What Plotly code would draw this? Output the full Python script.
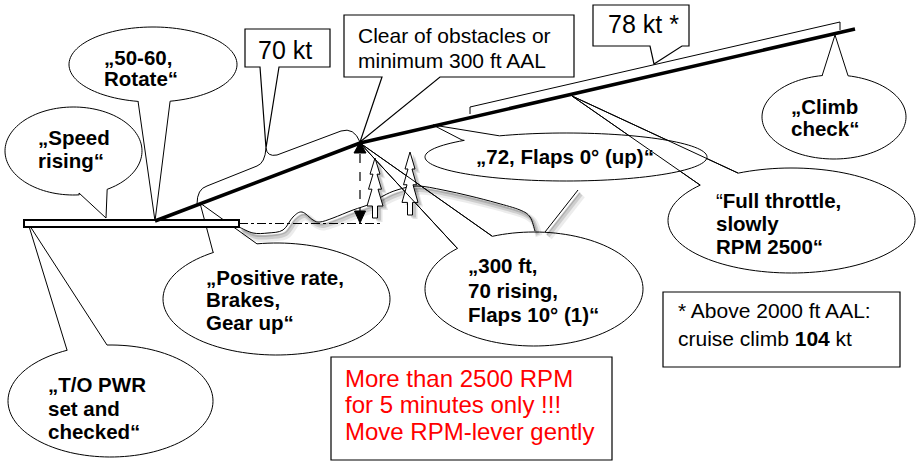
import math
import plotly.graph_objects as go

W, H = 917, 462
FONT = "Liberation Sans, Arial, sans-serif"

# ---------------- data (diagram geometry, pixel units) ----------------
climb_x = [155, 360, 855]
climb_y = [221, 143, 29]

runway_x = [24, 239]
runway_y = [220, 227]

terrain_x = [239, 253, 268, 283, 293, 302, 313, 320, 333, 353, 370, 383, 397, 417, 443, 470, 497, 520, 530, 535]
terrain_y = [227, 233, 233, 230, 217, 212, 220, 222, 218, 210, 204, 196, 190, 186, 190, 196, 203, 210, 217, 231]
slope_x = [545, 578]
slope_y = [232, 190]

tree_cx = [375, 410]
tree_top = [158, 152]
tree_bottom = [218, 215]

# speech bubbles
bubble_lines = [
    ["„Speed", "rising“"],
    ["„50-60,", "Rotate“"],
    ["„T/O PWR", "set and", "checked“"],
    ["„Positive rate,", "Brakes,", "Gear up“"],
    ["“<b>Full throttle,</b>", "<b>slowly</b>", "<b>RPM 2500“</b>"],
    ["„72, Flaps 0° (up)“"],
    ["„300 ft,", "70 rising,", "Flaps 10° (1)“"],
    ["„Climb", "check“"],
]
bubble_cx = [73.5, 153, 110.5, 276.5, 791.5, 566, 534, 834]
bubble_cy = [151, 64.5, 401, 299, 220.5, 157, 289, 117]
bubble_rx = [68.5, 84, 102.5, 113.5, 123.5, 141, 109, 72]
bubble_ry = [44, 37.5, 56, 56, 52.5, 24, 57, 42]
bubble_apex = [(106, 218), (155, 221), (28, 223), (200, 203), (572, 96), (433, 125), (360, 143), (835, 35)]
bubble_base1 = [(79, 193), (138, 101), (67, 350), (213, 252), (700, 185), (462, 140), (457, 248), (822, 76)]
bubble_base2 = [(106, 188), (170, 101), (107, 345), (257, 244), (738, 173), (500, 136), (492, 236), (848, 76)]
bubble_text_x = [36, 102, 46, 204, 714, 474, 466, 789]
bubble_text_y = [[137.5, 160.5], [57, 78], [384, 408, 431.5], [277.5, 299.5, 322.5],
                 [200, 223, 246.5], [156.5], [265, 290, 314], [106.5, 128.5]]
bubble_overlay_tail = [False, False, False, False, True, False, True, False]

# rectangular callouts
box_lines = [["70 kt"], ["78 kt *"], ["Clear of obstacles or", "minimum 300 ft AAL"],
             ["More than 2500 RPM", "for 5 minutes only !!!", "Move RPM-lever gently"],
             ["* Above 2000 ft AAL:", "cruise climb <b>104</b> kt"]]
box_x0 = [245, 593, 344, 331, 663]
box_y0 = [29, 5, 15, 357, 292]
box_x1 = [330, 689, 574, 612, 900]
box_y1 = [67, 46, 77, 460, 367]
box_tail = [(260, 279, 266, 148), (650, 682, 654, 64), (382, 440, 360, 142), None, None]
box_text_x = [256, 606, 356, 343, 676]
box_text_y = [[50], [24], [35, 60], [378.5, 404.5, 431], [310.5, 338.5]]
box_font = [25, 25, 21, 24, 21]
box_color = ["black", "black", "black", "#FF0000", "black"]

# speed brackets along climb path
bracket70 = "M197,204 Q197,189 207,186 L257,166 Q265,163 266,148 Q267,157 277,155 L341,131 Q354,127 360,142"
bracket78 = "M470,114 L470,107 L840,22 L840,30"

# ---------------- helpers ----------------
def poly(pts, close=False):
    s = "M" + " L".join(f"{x:.2f},{y:.2f}" for x, y in pts)
    return s + (" Z" if close else "")


def smooth(pts):
    s = f"M{pts[0][0]},{pts[0][1]}"
    n = len(pts)
    for i in range(n - 1):
        p0 = pts[i - 1] if i > 0 else pts[i]
        p1 = pts[i]
        p2 = pts[i + 1]
        p3 = pts[i + 2] if i + 2 < n else p2
        c1 = (p1[0] + (p2[0] - p0[0]) / 6, p1[1] + (p2[1] - p0[1]) / 6)
        c2 = (p2[0] - (p3[0] - p1[0]) / 6, p2[1] - (p3[1] - p1[1]) / 6)
        s += f" C{c1[0]:.2f},{c1[1]:.2f} {c2[0]:.2f},{c2[1]:.2f} {p2[0]},{p2[1]}"
    return s


def bubble_path(cx, cy, rx, ry, apex, b1, b2):
    ang = lambda p: math.atan2((p[1] - cy) / ry, (p[0] - cx) / rx)
    t1, t2, ta = ang(b1), ang(b2), ang(apex)
    tp = 2 * math.pi
    d = (t1 - t2) % tp
    if (ta - t2) % tp < d:
        step = -(tp - d)
    else:
        step = d
    pts = [b1, apex]
    n = 120
    for k in range(n + 1):
        t = t2 + step * k / n
        pts.append((cx + rx * math.cos(t), cy + ry * math.sin(t)))
    return poly(pts, close=True)


def tree_pts(cx, top, bottom, dx=0, dy=0):
    h = bottom - top
    rel = [(0, 0), (5, 0.27), (2, 0.27), (6.5, 0.52), (3, 0.52), (8, 0.8), (2.5, 0.8), (2.5, 1.0),
           (-2.5, 1.0), (-2.5, 0.8), (-8, 0.8), (-3, 0.52), (-6.5, 0.52), (-2, 0.27), (-5, 0.27)]
    return [(cx + a + dx, top + b * h + dy) for a, b in rel]


shapes = []
annotations = []


def add_path(path, color="black", width=1, fill=None, dash=None, opacity=1):
    line = dict(color=color, width=width)
    if dash:
        line["dash"] = dash
    shapes.append(dict(type="path", path=path, xref="x", yref="y", line=line,
                       fillcolor=fill if fill else "rgba(0,0,0,0)", opacity=opacity, layer="above"))


# ---------------- callouts (filled) ----------------
for i in range(len(bubble_lines)):
    add_path(bubble_path(bubble_cx[i], bubble_cy[i], bubble_rx[i], bubble_ry[i],
                         bubble_apex[i], bubble_base1[i], bubble_base2[i]), fill="white", width=1)

for i in range(len(box_lines)):
    x0, y0, x1, y1 = box_x0[i], box_y0[i], box_x1[i], box_y1[i]
    if box_tail[i]:
        ta, tb, ax, ay = box_tail[i]
        pts = [(x0, y0), (x1, y0), (x1, y1), (tb, y1), (ax, ay), (ta, y1), (x0, y1)]
    else:
        pts = [(x0, y0), (x1, y0), (x1, y1), (x0, y1)]
    add_path(poly(pts, close=True), fill="white", width=1.2)

# brackets
add_path(bracket70, width=1)
add_path(bracket78, width=1)

# ---------------- terrain with soft shadow ----------------
tpts = list(zip(terrain_x, terrain_y))
spts = list(zip(slope_x, slope_y))
for off, w, op in [((4, 5), 7, 0.07), ((3, 4), 4, 0.12), ((2, 2.5), 2, 0.15)]:
    add_path(smooth([(x + off[0], y + off[1]) for x, y in tpts]), color="black", width=w, opacity=op)
    add_path(poly([(x + off[0], y + off[1]) for x, y in spts]), color="black", width=w, opacity=op)
add_path(smooth(tpts), width=1)
add_path(poly(spts), width=1)

# trees with shadow
for i in range(len(tree_cx)):
    for off, op in [((5, 4), 0.10), ((3.5, 2.5), 0.15)]:
        add_path(poly(tree_pts(tree_cx[i], tree_top[i], tree_bottom[i], *off), True),
                 color="rgba(0,0,0,0)", width=0, fill="rgba(0,0,0,1)", opacity=op)
    add_path(poly(tree_pts(tree_cx[i], tree_top[i], tree_bottom[i]), True), fill="white", width=1)

# tail outlines that lie over other elements
for i in range(len(bubble_lines)):
    if bubble_overlay_tail[i]:
        add_path(poly([bubble_base1[i], bubble_apex[i], bubble_base2[i]]), width=1)

# ---------------- runway, reference line, climb path ----------------
add_path(poly([(runway_x[0], runway_y[0]), (runway_x[1], runway_y[0]),
               (runway_x[1], runway_y[1]), (runway_x[0], runway_y[1])], True), fill="white", width=2)
add_path(poly([(runway_x[1], 223.5), (383, 223.5)]), width=1, dash="dashdot")
add_path(poly(list(zip(climb_x, climb_y))), width=3.5)

# 300 ft marker: triangle + dashed height arrow
mx, my = climb_x[1], climb_y[1]
add_path(poly([(mx, my - 1), (mx - 6, my + 10), (mx + 6, my + 10)], True), fill="black", width=1)
add_path(poly([(mx, my + 11), (mx, 212)]), width=1.2, dash="dash")
add_path(poly([(mx - 5.5, 211), (mx + 5.5, 211), (mx, 223)], True), fill="black", width=1)

# ---------------- texts ----------------
for i, lines in enumerate(bubble_lines):
    for j, t in enumerate(lines):
        txt = t if "<b>" in t else f"<b>{t}</b>"
        annotations.append(dict(x=bubble_text_x[i], y=bubble_text_y[i][j], xref="x", yref="y",
                                text=txt, showarrow=False, xanchor="left", yanchor="middle",
                                font=dict(family=FONT, size=20.5, color="black")))
for i, lines in enumerate(box_lines):
    for j, t in enumerate(lines):
        annotations.append(dict(x=box_text_x[i], y=box_text_y[i][j], xref="x", yref="y",
                                text=t, showarrow=False, xanchor="left", yanchor="middle",
                                font=dict(family=FONT, size=box_font[i], color=box_color[i])))

fig = go.Figure()
fig.update_layout(
    width=W, height=H, margin=dict(l=0, r=0, t=0, b=0),
    paper_bgcolor="white", plot_bgcolor="white", showlegend=False,
    xaxis=dict(range=[0, W], visible=False, fixedrange=True),
    yaxis=dict(range=[H, 0], visible=False, fixedrange=True),
    shapes=shapes, annotations=annotations,
)
fig.write_html("out.html", config={"displayModeBar": False},
               post_script="document.body.style.margin='0';document.body.style.overflow='hidden';")
